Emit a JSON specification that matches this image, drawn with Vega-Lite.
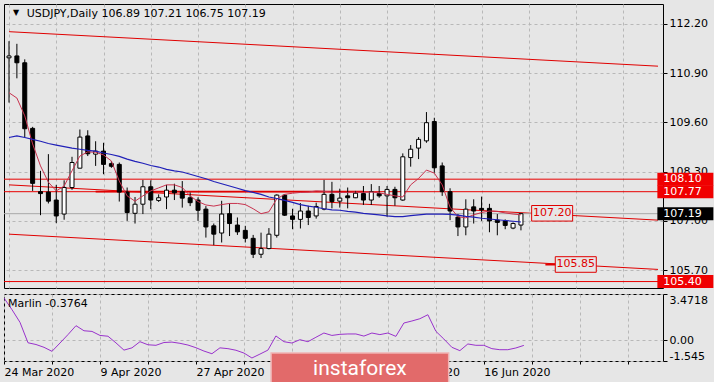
{
  "$schema": "https://vega.github.io/schema/vega-lite/v6.json",
  "padding": {"left": 3, "top": 3, "right": 0, "bottom": 0},
  "background": "#E6E6E6",
  "spacing": 4,
  "datasets": {
    "bars": [
      {"i":0,"o":111.30,"h":111.74,"l":110.12,"c":111.35,"a":110.38,"b":109.20,"m":3.17},
      {"i":1,"o":111.35,"h":111.67,"l":110.76,"c":111.17,"a":110.24,"b":109.24,"m":2.30},
      {"i":2,"o":111.17,"h":111.26,"l":109.20,"c":109.43,"a":109.77,"b":109.20,"m":1.35},
      {"i":3,"o":109.44,"h":109.48,"l":107.79,"c":107.99,"a":109.03,"b":109.15,"m":-0.18},
      {"i":4,"o":107.77,"h":108.32,"l":107.15,"c":107.72,"a":108.45,"b":109.10,"m":-0.31},
      {"i":5,"o":107.76,"h":108.76,"l":107.46,"c":107.52,"a":108.02,"b":109.04,"m":-0.52},
      {"i":6,"o":107.55,"h":107.95,"l":106.94,"c":107.13,"a":107.79,"b":109.00,"m":-0.82},
      {"i":7,"o":107.18,"h":108.07,"l":107.03,"c":107.88,"a":107.92,"b":108.96,"m":-0.20},
      {"i":8,"o":107.88,"h":108.69,"l":107.82,"c":108.54,"a":108.32,"b":108.92,"m":0.43},
      {"i":9,"o":108.39,"h":109.41,"l":108.39,"c":109.21,"a":108.71,"b":108.89,"m":1.10},
      {"i":10,"o":109.24,"h":109.39,"l":108.71,"c":108.77,"a":108.82,"b":108.86,"m":0.72},
      {"i":11,"o":108.76,"h":109.10,"l":108.45,"c":108.84,"a":108.81,"b":108.84,"m":0.67},
      {"i":12,"o":108.84,"h":109.06,"l":108.23,"c":108.49,"a":108.74,"b":108.79,"m":0.37},
      {"i":13,"o":108.51,"h":108.58,"l":108.40,"c":108.44,"a":108.58,"b":108.75,"m":0.31},
      {"i":14,"o":108.49,"h":108.54,"l":107.51,"c":107.76,"a":108.05,"b":108.70,"m":-0.19},
      {"i":15,"o":107.76,"h":107.88,"l":107.00,"c":107.22,"a":107.66,"b":108.63,"m":-0.73},
      {"i":16,"o":107.20,"h":107.63,"l":106.93,"c":107.44,"a":107.52,"b":108.57,"m":-0.56},
      {"i":17,"o":107.44,"h":108.08,"l":107.18,"c":107.90,"a":107.66,"b":108.52,"m":-0.10},
      {"i":18,"o":107.90,"h":108.07,"l":107.31,"c":107.55,"a":107.79,"b":108.46,"m":-0.33},
      {"i":19,"o":107.54,"h":107.70,"l":107.50,"c":107.61,"a":107.87,"b":108.42,"m":-0.37},
      {"i":20,"o":107.63,"h":107.95,"l":107.31,"c":107.81,"a":107.95,"b":108.36,"m":-0.16},
      {"i":21,"o":107.81,"h":107.98,"l":107.55,"c":107.74,"a":107.95,"b":108.32,"m":-0.13},
      {"i":22,"o":107.77,"h":108.05,"l":107.35,"c":107.60,"a":107.88,"b":108.29,"m":-0.22},
      {"i":23,"o":107.61,"h":107.75,"l":107.39,"c":107.48,"a":107.66,"b":108.23,"m":-0.35},
      {"i":24,"o":107.55,"h":107.62,"l":107.00,"c":107.28,"a":107.51,"b":108.17,"m":-0.55},
      {"i":25,"o":107.31,"h":107.39,"l":106.56,"c":106.84,"a":107.42,"b":108.11,"m":-0.80},
      {"i":26,"o":106.87,"h":106.93,"l":106.36,"c":106.65,"a":107.39,"b":108.04,"m":-1.00},
      {"i":27,"o":106.68,"h":107.53,"l":106.43,"c":107.18,"a":107.43,"b":107.98,"m":-0.56},
      {"i":28,"o":107.19,"h":107.46,"l":106.60,"c":106.93,"a":107.46,"b":107.92,"m":-0.62},
      {"i":29,"o":106.89,"h":107.09,"l":106.63,"c":106.71,"a":107.46,"b":107.86,"m":-0.74},
      {"i":30,"o":106.75,"h":106.87,"l":106.43,"c":106.54,"a":107.43,"b":107.80,"m":-0.95},
      {"i":31,"o":106.54,"h":106.63,"l":106.02,"c":106.12,"a":107.32,"b":107.75,"m":-1.32},
      {"i":32,"o":106.12,"h":106.69,"l":106.02,"c":106.27,"a":107.19,"b":107.70,"m":-1.03},
      {"i":33,"o":106.27,"h":106.81,"l":106.25,"c":106.65,"a":107.24,"b":107.63,"m":-0.73},
      {"i":34,"o":106.62,"h":107.70,"l":106.56,"c":107.68,"a":107.58,"b":107.59,"m":0.33},
      {"i":35,"o":107.68,"h":107.70,"l":107.13,"c":107.15,"a":107.70,"b":107.54,"m":-0.10},
      {"i":36,"o":107.13,"h":107.32,"l":106.78,"c":107.04,"a":107.73,"b":107.49,"m":-0.20},
      {"i":37,"o":107.04,"h":107.47,"l":106.80,"c":107.26,"a":107.75,"b":107.43,"m":0.05},
      {"i":38,"o":107.26,"h":107.40,"l":106.89,"c":107.09,"a":107.76,"b":107.39,"m":-0.10},
      {"i":39,"o":107.13,"h":107.48,"l":107.06,"c":107.38,"a":107.79,"b":107.36,"m":0.23},
      {"i":40,"o":107.31,"h":108.08,"l":107.28,"c":107.70,"a":107.78,"b":107.32,"m":0.55},
      {"i":41,"o":107.70,"h":108.03,"l":107.33,"c":107.51,"a":107.76,"b":107.29,"m":0.37},
      {"i":42,"o":107.52,"h":107.85,"l":107.35,"c":107.60,"a":107.75,"b":107.28,"m":0.45},
      {"i":43,"o":107.66,"h":107.88,"l":107.33,"c":107.61,"a":107.75,"b":107.25,"m":0.48},
      {"i":44,"o":107.61,"h":107.79,"l":107.60,"c":107.73,"a":107.76,"b":107.23,"m":0.48},
      {"i":45,"o":107.72,"h":107.92,"l":107.42,"c":107.55,"a":107.75,"b":107.20,"m":0.32},
      {"i":46,"o":107.55,"h":107.97,"l":107.42,"c":107.77,"a":107.76,"b":107.18,"m":0.55},
      {"i":47,"o":107.72,"h":107.92,"l":107.61,"c":107.66,"a":107.74,"b":107.16,"m":0.43},
      {"i":48,"o":107.66,"h":107.92,"l":107.11,"c":107.83,"a":107.70,"b":107.13,"m":0.55},
      {"i":49,"o":107.83,"h":107.90,"l":107.40,"c":107.61,"a":107.66,"b":107.11,"m":0.30},
      {"i":50,"o":107.55,"h":108.78,"l":107.53,"c":108.69,"a":107.63,"b":107.11,"m":1.30},
      {"i":51,"o":108.67,"h":109.00,"l":108.43,"c":108.89,"a":107.95,"b":107.14,"m":1.45},
      {"i":52,"o":108.92,"h":109.21,"l":108.63,"c":109.15,"a":108.12,"b":107.16,"m":1.62},
      {"i":53,"o":109.11,"h":109.87,"l":109.06,"c":109.59,"a":108.34,"b":107.18,"m":1.92},
      {"i":54,"o":109.62,"h":109.72,"l":108.27,"c":108.40,"a":108.26,"b":107.18,"m":0.68},
      {"i":55,"o":108.45,"h":108.54,"l":107.66,"c":107.77,"a":107.95,"b":107.18,"m":0.10},
      {"i":56,"o":107.77,"h":107.86,"l":107.02,"c":107.26,"a":107.36,"b":107.17,"m":-0.52},
      {"i":57,"o":107.10,"h":107.18,"l":106.60,"c":106.84,"a":107.11,"b":107.15,"m":-0.77},
      {"i":58,"o":106.84,"h":107.57,"l":106.62,"c":107.31,"a":107.08,"b":107.12,"m":-0.27},
      {"i":59,"o":107.37,"h":107.57,"l":106.93,"c":107.26,"a":107.16,"b":107.10,"m":-0.37},
      {"i":60,"o":107.33,"h":107.64,"l":107.00,"c":107.29,"a":107.22,"b":107.07,"m":-0.37},
      {"i":61,"o":107.33,"h":107.45,"l":106.70,"c":107.00,"a":107.26,"b":107.05,"m":-0.62},
      {"i":62,"o":107.02,"h":107.18,"l":106.62,"c":106.96,"a":107.25,"b":107.03,"m":-0.70},
      {"i":63,"o":107.00,"h":107.04,"l":106.78,"c":106.88,"a":107.21,"b":107.01,"m":-0.70},
      {"i":64,"o":106.81,"h":106.96,"l":106.78,"c":106.93,"a":107.18,"b":106.99,"m":-0.57},
      {"i":65,"o":106.89,"h":107.21,"l":106.75,"c":107.19,"a":107.16,"b":106.97,"m":-0.3764}
    ],
    "channels": [
      {"n":"top","i":0,"p":111.99},{"n":"top","i":82.4,"p":111.08},
      {"n":"mid","i":0,"p":107.95},{"n":"mid","i":82.4,"p":107.02},
      {"n":"low","i":0,"p":106.65},{"n":"low","i":82.4,"p":105.72}
    ],
    "levels": [{"p":108.10},{"p":107.77},{"p":105.40}],
    "tags": [
      {"p":108.10,"t":"108.10","k":"r"},
      {"p":107.77,"t":"107.77","k":"r"},
      {"p":107.19,"t":"107.19","k":"b"},
      {"p":105.40,"t":"105.40","k":"r"}
    ],
    "linelabels": [
      {"i":68.96,"p":107.20,"t":"107.20"},
      {"i":71.96,"p":105.85,"t":"105.85"}
    ],
    "one": [{}]
  },
  "vconcat": [
    {
      "width": 659,
      "height": 284,
      "layer": [
        {
          "data": {"name": "channels"},
          "mark": {"type": "line", "color": "#E00000", "strokeWidth": 1, "clip": true},
          "encoding": {
            "x": {"field": "i", "type": "quantitative",
                  "scale": {"domain": [0, 82.4], "nice": false, "zero": false},
                  "axis": {"values": [0,6,12,18,24,30,36,42,48,54,60,66,72,78], "tickCount": 20, "labels": false, "ticks": false, "domain": false, "grid": true, "title": null}},
            "y": {"field": "p", "type": "quantitative",
                  "scale": {"domain": [105.23, 112.72], "nice": false, "zero": false},
                  "axis": {"orient": "right", "values": [105.7, 107.0, 108.3, 109.6, 110.9, 112.2], "tickCount": 10, "format": ".2f", "title": null, "domain": false, "ticks": true, "tickSize": 4, "labelPadding": 2, "labelOverlap": false, "grid": true}},
            "detail": {"field": "n"}
          }
        },
        {
          "data": {"name": "levels"},
          "mark": {"type": "rule", "color": "#E80000", "strokeWidth": 1},
          "encoding": {"y": {"field": "p", "type": "quantitative"}}
        },
        {
          "data": {"name": "one"},
          "mark": {"type": "rule", "color": "#A8A8A8", "strokeWidth": 1},
          "encoding": {"y": {"datum": 107.19}}
        },
        {
          "data": {"name": "one"},
          "mark": {"type": "rule", "color": "#E00000", "strokeWidth": 1.7},
          "encoding": {"x": {"datum": 11}, "x2": {"datum": 45}, "y": {"datum": 107.77}}
        },
        {
          "data": {"name": "one"},
          "mark": {"type": "rule", "color": "#E00000", "strokeWidth": 2},
          "encoding": {"x": {"datum": 68.1}, "x2": {"datum": 69.5}, "y": {"datum": 105.85}}
        },
        {
          "data": {"name": "bars"},
          "mark": {"type": "rule", "color": "#000000", "strokeWidth": 1, "clip": true},
          "encoding": {
            "x": {"field": "i", "type": "quantitative"},
            "y": {"field": "l", "type": "quantitative"},
            "y2": {"field": "h"}
          }
        },
        {
          "data": {"name": "bars"},
          "mark": {"type": "bar", "width": 4, "stroke": "#000000", "strokeWidth": 1, "clip": true},
          "encoding": {
            "x": {"field": "i", "type": "quantitative"},
            "y": {"field": "o", "type": "quantitative"},
            "y2": {"field": "c"},
            "fill": {"condition": {"test": "datum.c >= datum.o", "value": "#FFFFFF"}, "value": "#000000"}
          }
        },
        {
          "data": {"name": "bars"},
          "mark": {"type": "line", "color": "#C8324E", "strokeWidth": 1, "clip": true},
          "encoding": {
            "x": {"field": "i", "type": "quantitative"},
            "y": {"field": "a", "type": "quantitative"}
          }
        },
        {
          "data": {"name": "bars"},
          "mark": {"type": "line", "color": "#2020B8", "strokeWidth": 1.2, "clip": true},
          "encoding": {
            "x": {"field": "i", "type": "quantitative"},
            "y": {"field": "b", "type": "quantitative"}
          }
        },
        {
          "data": {"name": "linelabels"},
          "mark": {"type": "point", "shape": "M-1,-0.38H1V0.38H-1Z", "size": 1681, "filled": true, "fill": "#E6E6E6", "stroke": "#E00000", "strokeWidth": 1, "opacity": 1},
          "encoding": {
            "x": {"field": "i", "type": "quantitative"},
            "y": {"field": "p", "type": "quantitative"}
          }
        },
        {
          "data": {"name": "linelabels"},
          "mark": {"type": "text", "color": "#E00000", "fontSize": 11, "align": "center", "baseline": "middle"},
          "encoding": {
            "x": {"field": "i", "type": "quantitative"},
            "y": {"field": "p", "type": "quantitative"},
            "text": {"field": "t"}
          }
        },
        {
          "data": {"name": "tags"},
          "mark": {"type": "point", "shape": "M-1,-0.232H1V0.232H-1Z", "size": 3136, "filled": true, "strokeWidth": 0, "opacity": 1, "clip": false},
          "encoding": {
            "x": {"datum": 85.875},
            "y": {"field": "p", "type": "quantitative"},
            "fill": {"condition": {"test": "datum.k == 'b'", "value": "#000000"}, "value": "#F00000"}
          }
        },
        {
          "data": {"name": "tags"},
          "mark": {"type": "text", "color": "#FFFFFF", "fontSize": 11, "align": "center", "baseline": "middle", "clip": false},
          "encoding": {
            "x": {"datum": 85.5},
            "y": {"field": "p", "type": "quantitative"},
            "text": {"field": "t"}
          }
        },
        {
          "data": {"name": "one"},
          "mark": {"type": "text", "text": "▼", "fontSize": 8, "color": "#000000", "align": "center", "baseline": "middle"},
          "encoding": {"x": {"datum": 0.9}, "y": {"datum": 112.47}}
        },
        {
          "data": {"name": "one"},
          "mark": {"type": "text", "text": "USDJPY,Daily  106.89 107.21 106.75 107.19", "fontSize": 11, "color": "#000000", "align": "left", "baseline": "middle"},
          "encoding": {"x": {"datum": 2.25}, "y": {"datum": 112.456}}
        }
      ]
    },
    {
      "width": 659,
      "height": 67,
      "layer": [
        {
          "data": {"name": "bars"},
          "mark": {"type": "line", "color": "#9932CC", "strokeWidth": 1, "clip": true},
          "encoding": {
            "x": {"field": "i", "type": "quantitative",
                  "scale": {"domain": [0, 82.4], "nice": false, "zero": false},
                  "axis": {"values": [0,6,12,18,24,30,36,42,48,54,60,66,72,78], "tickCount": 20,
                           "labelExpr": "datum.value == 0 ? '24 Mar 2020' : datum.value == 12 ? '9 Apr 2020' : datum.value == 24 ? '27 Apr 2020' : datum.value == 36 ? '13 May 2020' : datum.value == 48 ? '29 May 2020' : datum.value == 60 ? '16 Jun 2020' : ''",
                           "labelAlign": "left", "labelFlush": false, "labelOverlap": false, "labelBound": false, "labelPadding": 2,
                           "ticks": true, "tickSize": 3, "domain": false, "grid": true, "title": null}},
            "y": {"field": "m", "type": "quantitative",
                  "scale": {"domain": [-1.545, 3.4718], "nice": false, "zero": false},
                  "axis": {"orient": "right", "values": [3.4718, 0, -1.545], "tickCount": 6,
                           "labelExpr": "datum.value > 3 ? '3.4718' : datum.value < -1 ? '-1.545' : '0.00'",
                           "labelFlush": true, "labelOverlap": false, "title": null, "domain": false, "ticks": true, "tickSize": 4, "labelPadding": 2, "grid": true}}
          }
        },
        {
          "data": {"name": "one"},
          "mark": {"type": "text", "text": "Marlin -0.3764", "fontSize": 11, "color": "#000000", "align": "left", "baseline": "middle"},
          "encoding": {"x": {"datum": 0.5}, "y": {"datum": 2.72}}
        },
        {
          "data": {"name": "one"},
          "mark": {"type": "rect", "fill": "#E26A6A", "stroke": "#F0B4B4", "strokeWidth": 1.5, "clip": false},
          "encoding": {"x": {"datum": 33.4}, "x2": {"datum": 55.6}, "y": {"datum": -0.945}, "y2": {"datum": -3.34}}
        },
        {
          "data": {"name": "one"},
          "mark": {"type": "text", "text": "instaforex", "font": "Roboto", "fontSize": 21, "color": "#FFFFFF", "align": "center", "baseline": "middle", "clip": false},
          "encoding": {"x": {"datum": 44.5}, "y": {"datum": -2.14}}
        }
      ]
    }
  ],
  "config": {
    "view": {"stroke": "#000000", "strokeWidth": 1, "fill": "#E6E6E6"},
    "axis": {"labelFont": "DejaVu Sans", "labelFontSize": 11, "labelColor": "#000000", "gridColor": "#B8B8B8", "gridDash": [3, 3], "gridWidth": 1, "tickColor": "#000000"},
    "text": {"font": "DejaVu Sans", "fontSize": 11}
  }
}
